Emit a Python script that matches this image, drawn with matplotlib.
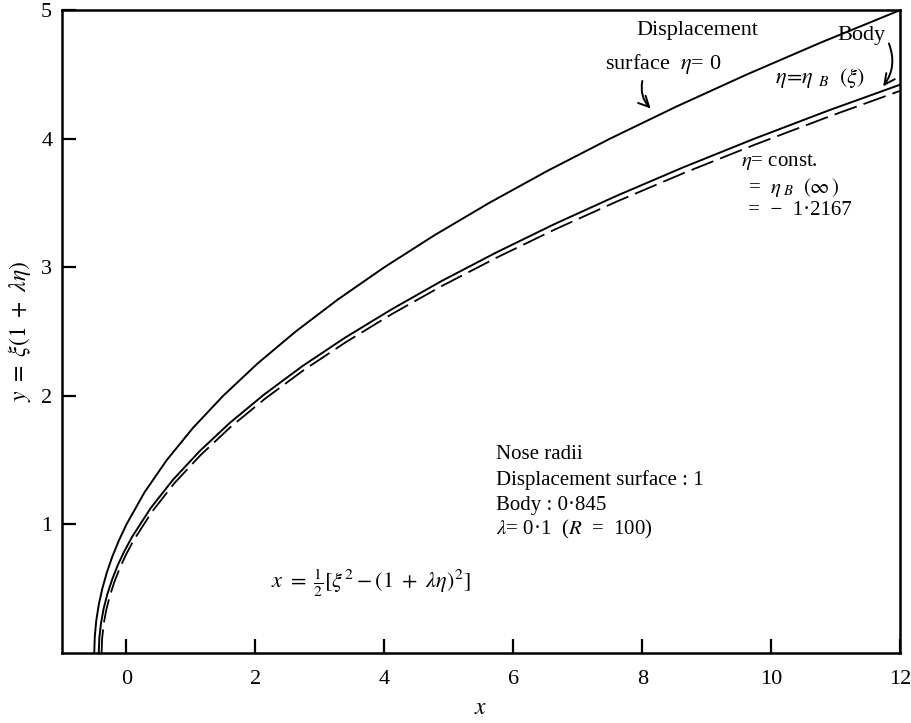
"""Displacement surface, body and eta = const. contour for the parabolic nose."""
import matplotlib
matplotlib.use("Agg")
import matplotlib.pyplot as plt

plt.rcParams.update({
    "font.family": "serif",
    "font.serif": ["Liberation Serif", "DejaVu Serif"],
    "mathtext.fontset": "stix",
    "font.size": 15,
})

# Displacement surface, eta = 0  (x, y)
disp_x = [-0.500, -0.492, -0.469, -0.430, -0.375, -0.305, -0.219, -0.117, 0.000,
          0.281, 0.625, 1.031, 1.500, 2.031, 2.625, 3.281, 4.000, 4.781, 5.625,
          6.531, 7.500, 8.531, 9.625, 10.781, 12.000]
disp_y = [0.000, 0.125, 0.250, 0.375, 0.500, 0.625, 0.750, 0.875, 1.000,
          1.250, 1.500, 1.750, 2.000, 2.250, 2.500, 2.750, 3.000, 3.250, 3.500,
          3.750, 4.000, 4.250, 4.500, 4.750, 5.000]

# Body surface, eta = eta_B(xi)
body_x = [-0.430, -0.421, -0.395, -0.354, -0.296, -0.222, -0.135, -0.030, 0.090,
          0.375, 0.722, 1.130, 1.600, 2.133, 2.727, 3.384, 4.104, 4.885, 5.729,
          6.636, 7.605, 8.636, 9.730, 10.887, 12.110]
body_y = [0.000, 0.116, 0.231, 0.345, 0.458, 0.571, 0.683, 0.794, 0.905,
          1.126, 1.347, 1.567, 1.788, 2.009, 2.230, 2.450, 2.670, 2.892, 3.113,
          3.335, 3.556, 3.777, 3.998, 4.219, 4.440]

# eta = const. = eta_B(inf)
const_x = [-0.386, -0.378, -0.355, -0.316, -0.261, -0.190, -0.105, -0.003, 0.114,
           0.396, 0.739, 1.146, 1.614, 2.146, 2.739, 3.396, 4.114, 4.896, 5.739,
           6.646, 7.614, 8.646, 9.739, 10.896, 12.110]
const_y = [0.000, 0.110, 0.220, 0.329, 0.439, 0.549, 0.659, 0.769, 0.878,
           1.098, 1.318, 1.537, 1.757, 1.976, 2.196, 2.415, 2.635, 2.855, 3.074,
           3.294, 3.513, 3.733, 3.952, 4.172, 4.392]

x_ticks = [0, 2, 4, 6, 8, 10, 12]
y_ticks = [1, 2, 3, 4, 5]

fig = plt.figure(figsize=(9.12, 7.23), dpi=100)
ax = fig.add_axes([0.068, 0.097, 0.919, 0.889])

ax.plot(disp_x, disp_y, color="black", lw=1.4)
ax.plot(body_x, body_y, color="black", lw=1.4)
ax.plot(const_x, const_y, color="black", lw=1.3, dashes=(13, 4))

ax.set_xlim(-1, 12)
ax.set_ylim(0, 5)
ax.set_xticks(x_ticks)
ax.set_yticks(y_ticks)
ax.tick_params(direction="in", length=10, width=1.6, labelsize=16)
ax.tick_params(axis="x", pad=12)
ax.tick_params(axis="y", pad=7)
for s in ax.spines.values():
    s.set_linewidth(1.8)

ax.set_xlabel(r"$x$", fontsize=17)
ax.xaxis.set_label_coords(0.5, -0.07)
ax.set_ylabel(r"$y\ =\ \xi(1\ +\ \lambda\eta)$", fontsize=17, labelpad=6)

# curve labels and arrows
ax.text(8.85, 4.84, "Displacement", ha="center", va="center", fontsize=16)
ax.text(7.42, 4.58, r"surface  $\eta$= 0", ha="left", va="center", fontsize=16)
ax.annotate("", xy=(8.16, 4.22), xytext=(8.01, 4.47),
            arrowprops=dict(arrowstyle="->,head_length=0.5,head_width=0.25",
                            connectionstyle="arc3,rad=0.3", lw=1.4, color="black"))

ax.text(11.4, 4.8, "Body", ha="center", va="center", fontsize=16)
ax.text(10.75, 4.47, r"$\eta\!=\!\eta\ _B\ \ (\xi)$", ha="center", va="center",
        fontsize=16)
ax.annotate("", xy=(11.71, 4.39), xytext=(11.81, 4.76),
            arrowprops=dict(arrowstyle="->,head_length=0.5,head_width=0.25",
                            connectionstyle="arc3,rad=-0.3", lw=1.4, color="black"))

ax.text(9.53, 3.82, r"$\eta$= const.", ha="left", va="center")
ax.text(9.56, 3.62, r" =  $\eta\,_B\ \ (\infty\,)$", ha="left", va="center")
ax.text(9.56, 3.44, r" =  −  1·2167", ha="left", va="center")

ax.text(5.73, 1.54, "Nose radii", ha="left", va="center")
ax.text(5.73, 1.345, "Displacement surface : 1", ha="left", va="center")
ax.text(5.73, 1.15, "Body : 0·845", ha="left", va="center")
ax.text(5.73, 0.956, r"$\lambda$= 0·1  ($R$  =  100)", ha="left", va="center")

ax.text(2.24, 0.544, r"$x\ =\ \frac{1}{2}[\xi^2 - (1\ +\ \lambda\eta)^2]$",
        ha="left", va="center", fontsize=16)

fig.savefig("out.png", dpi=100)
